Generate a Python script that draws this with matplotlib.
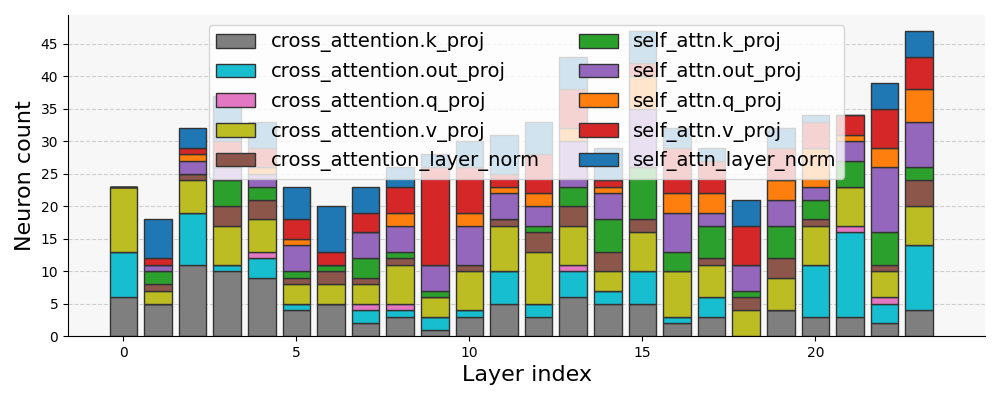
import matplotlib
matplotlib.use("Agg")
import matplotlib.pyplot as plt
import numpy as np

layers = np.arange(24)

# neuron counts per module, one value per layer
names = ["cross_attention.k_proj", "cross_attention.out_proj", "cross_attention.q_proj",
         "cross_attention.v_proj", "cross_attention_layer_norm",
         "self_attn.k_proj", "self_attn.out_proj", "self_attn.q_proj",
         "self_attn.v_proj", "self_attn_layer_norm"]
colors = ["#7f7f7f", "#17becf", "#e377c2", "#bcbd22", "#8c564b",
          "#2ca02c", "#9467bd", "#ff7f0e", "#d62728", "#1f77b4"]

ca_k    = [6, 5, 11, 10, 9, 4, 5, 2, 3, 1, 3, 5, 3, 6, 5, 5, 2, 3, 0, 4, 3, 3, 2, 4]
ca_out  = [7, 0, 8, 1, 3, 1, 0, 2, 1, 2, 1, 5, 2, 4, 2, 5, 1, 3, 0, 0, 8, 13, 3, 10]
ca_q    = [0, 0, 0, 0, 1, 0, 0, 1, 1, 0, 0, 0, 0, 1, 0, 0, 0, 0, 0, 0, 0, 1, 1, 0]
ca_v    = [10, 2, 5, 6, 5, 3, 3, 3, 6, 3, 6, 7, 8, 6, 3, 6, 7, 5, 4, 5, 6, 6, 4, 6]
ca_ln   = [0, 1, 1, 3, 3, 1, 2, 1, 1, 0, 1, 1, 3, 3, 3, 2, 0, 1, 2, 3, 1, 0, 1, 4]
sa_k    = [0, 2, 0, 4, 2, 1, 1, 3, 1, 1, 0, 0, 1, 3, 5, 8, 3, 5, 1, 5, 3, 4, 5, 2]
sa_out  = [0, 1, 2, 2, 2, 4, 0, 4, 4, 4, 6, 4, 3, 7, 4, 9, 6, 2, 4, 4, 2, 3, 10, 7]
sa_q    = [0, 0, 1, 0, 1, 1, 0, 0, 2, 0, 2, 1, 2, 2, 1, 5, 3, 3, 0, 3, 6, 1, 3, 5]
sa_v    = [0, 1, 1, 4, 3, 3, 2, 3, 4, 15, 7, 2, 6, 6, 1, 2, 7, 5, 6, 5, 4, 3, 6, 5]
sa_ln   = [0, 6, 3, 7, 4, 5, 7, 4, 3, 2, 4, 6, 5, 5, 5, 5, 3, 2, 4, 3, 1, 0, 4, 4]

series = [ca_k, ca_out, ca_q, ca_v, ca_ln, sa_k, sa_out, sa_q, sa_v, sa_ln]

fig = plt.figure(figsize=(10, 4), dpi=100)
ax = fig.add_axes([0.068, 0.16, 0.917, 0.8025])
ax.set_facecolor("#f7f7f7")

bottom = np.zeros(len(layers))
for name, col, vals in zip(names, colors, series):
    vals = np.array(vals)
    ax.bar(layers, vals, bottom=bottom, width=0.8, color=col,
           edgecolor="#333333", linewidth=1, label=name)
    bottom += vals

ax.set_xlim(-1.6, 24.9)
ax.set_ylim(0, 49.4)
ax.set_yticks(np.arange(0, 50, 5))
ax.yaxis.grid(True, linestyle="--", color="#d0d0d0", linewidth=0.8)
ax.set_axisbelow(True)
ax.spines["top"].set_visible(False)
ax.spines["right"].set_visible(False)

ax.set_xlabel("Layer index", fontsize=16)
ax.set_ylabel("Neuron count", fontsize=16)

ax.legend(loc="upper center", ncol=2, fontsize=14)

fig.savefig("out.png")
